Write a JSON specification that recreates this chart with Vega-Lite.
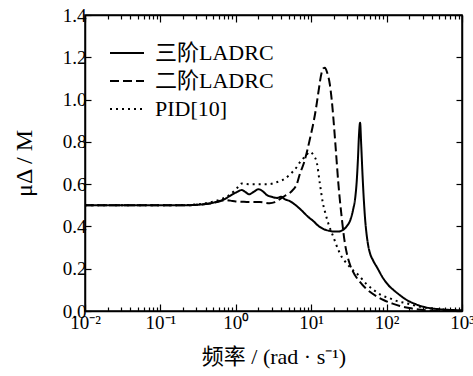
{
  "$schema": "https://vega.github.io/schema/vega-lite/v6.json",
  "width": 377,
  "height": 296,
  "autosize": {"type": "none"},
  "padding": {"left": 85, "top": 15, "right": 11, "bottom": 65},
  "background": "white",
  "config": {
    "font": "Liberation Serif",
    "view": {"stroke": "black", "strokeWidth": 1.5},
    "axis": {
      "domainColor": "black", "domainWidth": 1.5,
      "tickColor": "black", "tickWidth": 1.2,
      "labelFont": "Liberation Serif", "labelFontSize": 19, "labelColor": "black",
      "titleFont": "Liberation Serif, Noto Sans CJK SC", "titleFontSize": 21,
      "titleFontWeight": "normal", "titleColor": "black", "grid": false
    },
    "legend": {
      "labelFont": "Liberation Serif, Noto Sans CJK SC", "labelFontSize": 22, "labelColor": "black",
      "symbolType": "M-2,0H2", "symbolSize": 289, "symbolStrokeWidth": 2,
      "symbolStrokeColor": "black", "symbolFillColor": "transparent", "rowPadding": 6, "labelOffset": 17, "padding": 0
    }
  },
  "layer": [
    {
      "data": {"values": [
        {"series": "三阶LADRC", "f": 0.01, "v": 0.5},
        {"series": "三阶LADRC", "f": 0.03, "v": 0.5},
        {"series": "三阶LADRC", "f": 0.1, "v": 0.5},
        {"series": "三阶LADRC", "f": 0.2, "v": 0.5},
        {"series": "三阶LADRC", "f": 0.3, "v": 0.502},
        {"series": "三阶LADRC", "f": 0.4, "v": 0.506},
        {"series": "三阶LADRC", "f": 0.5, "v": 0.512},
        {"series": "三阶LADRC", "f": 0.6, "v": 0.52},
        {"series": "三阶LADRC", "f": 0.7, "v": 0.528},
        {"series": "三阶LADRC", "f": 0.84, "v": 0.545},
        {"series": "三阶LADRC", "f": 1.0, "v": 0.56},
        {"series": "三阶LADRC", "f": 1.2, "v": 0.572},
        {"series": "三阶LADRC", "f": 1.35, "v": 0.562},
        {"series": "三阶LADRC", "f": 1.5, "v": 0.552},
        {"series": "三阶LADRC", "f": 1.75, "v": 0.565},
        {"series": "三阶LADRC", "f": 2.0, "v": 0.576},
        {"series": "三阶LADRC", "f": 2.3, "v": 0.565},
        {"series": "三阶LADRC", "f": 2.6, "v": 0.548},
        {"series": "三阶LADRC", "f": 3.0, "v": 0.54},
        {"series": "三阶LADRC", "f": 3.5, "v": 0.535},
        {"series": "三阶LADRC", "f": 4.0, "v": 0.54},
        {"series": "三阶LADRC", "f": 4.5, "v": 0.528},
        {"series": "三阶LADRC", "f": 5.2, "v": 0.52},
        {"series": "三阶LADRC", "f": 6.0, "v": 0.505},
        {"series": "三阶LADRC", "f": 7.0, "v": 0.485},
        {"series": "三阶LADRC", "f": 8.0, "v": 0.465},
        {"series": "三阶LADRC", "f": 9.0, "v": 0.447},
        {"series": "三阶LADRC", "f": 10.7, "v": 0.425},
        {"series": "三阶LADRC", "f": 12.5, "v": 0.402},
        {"series": "三阶LADRC", "f": 14.5, "v": 0.388},
        {"series": "三阶LADRC", "f": 17, "v": 0.38},
        {"series": "三阶LADRC", "f": 20, "v": 0.376},
        {"series": "三阶LADRC", "f": 23, "v": 0.376},
        {"series": "三阶LADRC", "f": 26, "v": 0.382},
        {"series": "三阶LADRC", "f": 29.5, "v": 0.4},
        {"series": "三阶LADRC", "f": 33, "v": 0.43},
        {"series": "三阶LADRC", "f": 36, "v": 0.48},
        {"series": "三阶LADRC", "f": 38.5, "v": 0.54},
        {"series": "三阶LADRC", "f": 40, "v": 0.605},
        {"series": "三阶LADRC", "f": 41.7, "v": 0.72},
        {"series": "三阶LADRC", "f": 43, "v": 0.83},
        {"series": "三阶LADRC", "f": 44.5, "v": 0.89},
        {"series": "三阶LADRC", "f": 46, "v": 0.79},
        {"series": "三阶LADRC", "f": 48, "v": 0.64},
        {"series": "三阶LADRC", "f": 50, "v": 0.52},
        {"series": "三阶LADRC", "f": 52, "v": 0.43},
        {"series": "三阶LADRC", "f": 54, "v": 0.37},
        {"series": "三阶LADRC", "f": 57, "v": 0.31},
        {"series": "三阶LADRC", "f": 60, "v": 0.275},
        {"series": "三阶LADRC", "f": 66, "v": 0.24},
        {"series": "三阶LADRC", "f": 75, "v": 0.205},
        {"series": "三阶LADRC", "f": 90, "v": 0.155},
        {"series": "三阶LADRC", "f": 105, "v": 0.123},
        {"series": "三阶LADRC", "f": 123, "v": 0.1},
        {"series": "三阶LADRC", "f": 150, "v": 0.075},
        {"series": "三阶LADRC", "f": 185, "v": 0.052},
        {"series": "三阶LADRC", "f": 240, "v": 0.033},
        {"series": "三阶LADRC", "f": 307, "v": 0.02},
        {"series": "三阶LADRC", "f": 400, "v": 0.012},
        {"series": "三阶LADRC", "f": 511, "v": 0.008},
        {"series": "三阶LADRC", "f": 700, "v": 0.005},
        {"series": "三阶LADRC", "f": 1000, "v": 0.003},

        {"series": "二阶LADRC", "f": 0.01, "v": 0.5},
        {"series": "二阶LADRC", "f": 0.1, "v": 0.5},
        {"series": "二阶LADRC", "f": 0.2, "v": 0.5},
        {"series": "二阶LADRC", "f": 0.3, "v": 0.502},
        {"series": "二阶LADRC", "f": 0.4, "v": 0.506},
        {"series": "二阶LADRC", "f": 0.5, "v": 0.512},
        {"series": "二阶LADRC", "f": 0.6, "v": 0.518},
        {"series": "二阶LADRC", "f": 0.72, "v": 0.525},
        {"series": "二阶LADRC", "f": 0.85, "v": 0.522},
        {"series": "二阶LADRC", "f": 1.0, "v": 0.518},
        {"series": "二阶LADRC", "f": 1.4, "v": 0.516},
        {"series": "二阶LADRC", "f": 2.1, "v": 0.515},
        {"series": "二阶LADRC", "f": 2.8, "v": 0.51},
        {"series": "二阶LADRC", "f": 3.3, "v": 0.515},
        {"series": "二阶LADRC", "f": 3.8, "v": 0.528},
        {"series": "二阶LADRC", "f": 4.5, "v": 0.545},
        {"series": "二阶LADRC", "f": 5.2, "v": 0.558},
        {"series": "二阶LADRC", "f": 5.8, "v": 0.575},
        {"series": "二阶LADRC", "f": 6.4, "v": 0.597},
        {"series": "二阶LADRC", "f": 7.1, "v": 0.65},
        {"series": "二阶LADRC", "f": 8.0, "v": 0.7},
        {"series": "二阶LADRC", "f": 8.7, "v": 0.747},
        {"series": "二阶LADRC", "f": 9.7, "v": 0.82},
        {"series": "二阶LADRC", "f": 10.7, "v": 0.89},
        {"series": "二阶LADRC", "f": 11.6, "v": 0.96},
        {"series": "二阶LADRC", "f": 12.4, "v": 1.03},
        {"series": "二阶LADRC", "f": 13.7, "v": 1.125},
        {"series": "二阶LADRC", "f": 14.5, "v": 1.148},
        {"series": "二阶LADRC", "f": 15.2, "v": 1.15},
        {"series": "二阶LADRC", "f": 16.2, "v": 1.13},
        {"series": "二阶LADRC", "f": 17.7, "v": 1.07},
        {"series": "二阶LADRC", "f": 18.7, "v": 1.0},
        {"series": "二阶LADRC", "f": 19.6, "v": 0.92},
        {"series": "二阶LADRC", "f": 21.2, "v": 0.763},
        {"series": "二阶LADRC", "f": 22.9, "v": 0.605},
        {"series": "二阶LADRC", "f": 25.3, "v": 0.447},
        {"series": "二阶LADRC", "f": 28, "v": 0.32},
        {"series": "二阶LADRC", "f": 30, "v": 0.265},
        {"series": "二阶LADRC", "f": 33, "v": 0.215},
        {"series": "二阶LADRC", "f": 38, "v": 0.17},
        {"series": "二阶LADRC", "f": 44, "v": 0.139},
        {"series": "二阶LADRC", "f": 52, "v": 0.11},
        {"series": "二阶LADRC", "f": 60, "v": 0.091},
        {"series": "二阶LADRC", "f": 75, "v": 0.068},
        {"series": "二阶LADRC", "f": 91, "v": 0.052},
        {"series": "二阶LADRC", "f": 120, "v": 0.035},
        {"series": "二阶LADRC", "f": 150, "v": 0.024},
        {"series": "二阶LADRC", "f": 200, "v": 0.014},
        {"series": "二阶LADRC", "f": 250, "v": 0.008},
        {"series": "二阶LADRC", "f": 350, "v": 0.003},
        {"series": "二阶LADRC", "f": 500, "v": 0.001},
        {"series": "二阶LADRC", "f": 1000, "v": 0.0},

        {"series": "PID[10]", "f": 0.01, "v": 0.5},
        {"series": "PID[10]", "f": 0.1, "v": 0.5},
        {"series": "PID[10]", "f": 0.2, "v": 0.501},
        {"series": "PID[10]", "f": 0.3, "v": 0.504},
        {"series": "PID[10]", "f": 0.4, "v": 0.51},
        {"series": "PID[10]", "f": 0.5, "v": 0.517},
        {"series": "PID[10]", "f": 0.6, "v": 0.525},
        {"series": "PID[10]", "f": 0.7, "v": 0.535},
        {"series": "PID[10]", "f": 0.84, "v": 0.55},
        {"series": "PID[10]", "f": 1.03, "v": 0.58},
        {"series": "PID[10]", "f": 1.2, "v": 0.603},
        {"series": "PID[10]", "f": 1.5, "v": 0.6},
        {"series": "PID[10]", "f": 2.1, "v": 0.6},
        {"series": "PID[10]", "f": 2.8, "v": 0.6},
        {"series": "PID[10]", "f": 3.4, "v": 0.608},
        {"series": "PID[10]", "f": 4.2, "v": 0.62},
        {"series": "PID[10]", "f": 5.2, "v": 0.645},
        {"series": "PID[10]", "f": 6.4, "v": 0.68},
        {"series": "PID[10]", "f": 7.3, "v": 0.71},
        {"series": "PID[10]", "f": 8.3, "v": 0.73},
        {"series": "PID[10]", "f": 9.6, "v": 0.752},
        {"series": "PID[10]", "f": 10.8, "v": 0.735},
        {"series": "PID[10]", "f": 11.9, "v": 0.7},
        {"series": "PID[10]", "f": 13.0, "v": 0.605},
        {"series": "PID[10]", "f": 14.3, "v": 0.51},
        {"series": "PID[10]", "f": 15.5, "v": 0.46},
        {"series": "PID[10]", "f": 16.8, "v": 0.416},
        {"series": "PID[10]", "f": 19.6, "v": 0.352},
        {"series": "PID[10]", "f": 22.9, "v": 0.289},
        {"series": "PID[10]", "f": 26, "v": 0.25},
        {"series": "PID[10]", "f": 29.5, "v": 0.226},
        {"series": "PID[10]", "f": 34, "v": 0.2},
        {"series": "PID[10]", "f": 40, "v": 0.179},
        {"series": "PID[10]", "f": 44, "v": 0.163},
        {"series": "PID[10]", "f": 55, "v": 0.125},
        {"series": "PID[10]", "f": 67, "v": 0.1},
        {"series": "PID[10]", "f": 85, "v": 0.075},
        {"series": "PID[10]", "f": 110, "v": 0.06},
        {"series": "PID[10]", "f": 140, "v": 0.046},
        {"series": "PID[10]", "f": 185, "v": 0.036},
        {"series": "PID[10]", "f": 240, "v": 0.025},
        {"series": "PID[10]", "f": 307, "v": 0.017},
        {"series": "PID[10]", "f": 400, "v": 0.012},
        {"series": "PID[10]", "f": 511, "v": 0.008},
        {"series": "PID[10]", "f": 700, "v": 0.004},
        {"series": "PID[10]", "f": 1000, "v": 0.002}
      ]},
      "mark": {"type": "line", "color": "black", "strokeWidth": 2, "interpolate": "monotone", "strokeCap": "butt", "clip": true},
      "encoding": {
        "x": {
          "field": "f", "type": "quantitative",
          "scale": {"type": "log", "domain": [0.01, 1000], "nice": false},
          "axis": {
            "orient": "bottom",
            "title": "频率 / (rad · s⁻¹)",
            "titleFontSize": 22,
            "titlePadding": 14,
            "labelFlush": false,
            "labelPadding": 9,
            "values": [0.01,0.02,0.03,0.04,0.05,0.06,0.07,0.08,0.09,0.1,0.2,0.3,0.4,0.5,0.6,0.7,0.8,0.9,1,2,3,4,5,6,7,8,9,10,20,30,40,50,60,70,80,90,100,200,300,400,500,600,700,800,900,1000],
            "labelExpr": "datum.value == 0.01 ? '10⁻²' : datum.value == 0.1 ? '10⁻¹' : datum.value == 1 ? '10⁰' : datum.value == 10 ? '10¹' : datum.value == 100 ? '10²' : datum.value == 1000 ? '10³' : ''",
            "tickSize": {"condition": {"test": "indexof([0.01,0.1,1,10,100,1000], datum.value) >= 0", "value": -7}, "value": -4}
          }
        },
        "y": {
          "field": "v", "type": "quantitative",
          "scale": {"domain": [0, 1.4], "nice": false, "zero": false},
          "axis": null
        },
        "strokeDash": {
          "field": "series", "type": "nominal",
          "scale": {"domain": ["三阶LADRC", "二阶LADRC", "PID[10]"], "range": [[1, 0], [9, 4], [2, 4]]},
          "legend": {"title": null, "orient": "none", "legendX": 31, "legendY": 27}
        }
      }
    },
    {
      "data": {"values": [{"f": 0.01, "v": 0}, {"f": 1000, "v": 1.4}]},
      "mark": {"type": "point", "opacity": 0},
      "encoding": {
        "x": {
          "field": "f", "type": "quantitative",
          "scale": {"type": "log", "domain": [0.01, 1000], "nice": false},
          "axis": {
            "orient": "top", "title": null, "labels": false,
            "values": [0.01,0.02,0.03,0.04,0.05,0.06,0.07,0.08,0.09,0.1,0.2,0.3,0.4,0.5,0.6,0.7,0.8,0.9,1,2,3,4,5,6,7,8,9,10,20,30,40,50,60,70,80,90,100,200,300,400,500,600,700,800,900,1000],
            "tickSize": {"condition": {"test": "indexof([0.01,0.1,1,10,100,1000], datum.value) >= 0", "value": -7}, "value": -4}
          }
        },
        "y": {
          "field": "v", "type": "quantitative",
          "scale": {"domain": [0, 1.4], "nice": false, "zero": false},
          "axis": {
            "orient": "left",
            "title": "μΔ / M",
            "titleFontSize": 24,
            "titlePadding": 26,
            "values": [0, 0.2, 0.4, 0.6, 0.8, 1.0, 1.2, 1.4],
            "format": ".1f",
            "tickSize": -6,
            "labelPadding": 5
          }
        }
      }
    },
    {
      "data": {"values": [{"f": 0.01, "v": 0}, {"f": 1000, "v": 1.4}]},
      "mark": {"type": "point", "opacity": 0},
      "encoding": {
        "x": {
          "field": "f", "type": "quantitative",
          "scale": {"type": "log", "domain": [0.01, 1000], "nice": false},
          "axis": null
        },
        "y": {
          "field": "v", "type": "quantitative",
          "scale": {"domain": [0, 1.4], "nice": false, "zero": false},
          "axis": {
            "orient": "right", "title": null, "labels": false,
            "values": [0, 0.2, 0.4, 0.6, 0.8, 1.0, 1.2, 1.4],
            "tickSize": -6
          }
        }
      }
    }
  ],
  "resolve": {"axis": {"x": "independent", "y": "independent"}}
}
